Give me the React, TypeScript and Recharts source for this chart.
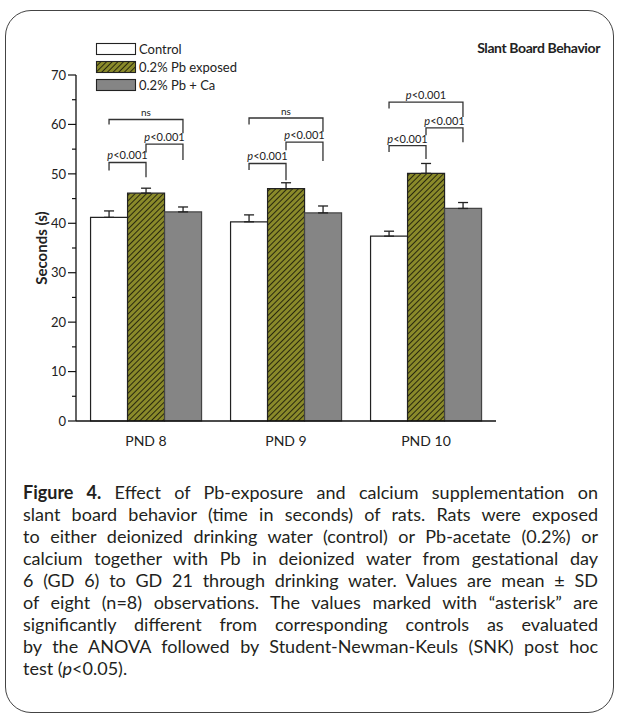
import React from "react";
import { BarChart, Bar, XAxis, YAxis, ErrorBar, ScatterChart, Scatter, ReferenceDot } from "recharts";

const days = ["PND 8", "PND 9", "PND 10"];
const control = [41.2, 40.3, 37.4];
const controlSd = [1.3, 1.4, 1.0];
const pbExposed = [46.1, 47.0, 50.1];
const pbExposedSd = [1.0, 1.2, 2.0];
const pbCa = [42.3, 42.1, 43.0];
const pbCaSd = [1.0, 1.4, 1.2];
const yTicks = [0, 5, 10, 15, 20, 25, 30, 35, 40, 45, 50, 55, 60, 65, 70];

// significance brackets: day index, bar from/to (0 control, 1 Pb, 2 Pb+Ca), bracket level and leg ends
const bracketDay = [0, 0, 0, 1, 1, 1, 2, 2, 2];
const bracketFrom = [0, 1, 0, 0, 1, 0, 0, 1, 0];
const bracketTo = [2, 2, 1, 2, 2, 1, 2, 2, 1];
const bracketTop = [61.0, 56.0, 52.3, 61.3, 56.4, 52.1, 64.5, 59.3, 55.7];
const bracketLeftEnd = [60.0, 54.3, 50.7, 60.0, 54.8, 50.8, 63.2, 57.8, 54.4];
const bracketRightEnd = [58.2, 52.8, 49.3, 58.5, 52.6, 48.7, 61.5, 56.4, 53.0];
const bracketLabel = ["ns", "p<0.001", "p<0.001", "ns", "p<0.001", "p<0.001", "p<0.001", "p<0.001", "p<0.001"];

const data = days.map((day, i) => ({
  day,
  control: control[i],
  controlErr: [0, controlSd[i]],
  pb: pbExposed[i],
  pbErr: [0, pbExposedSd[i]],
  ca: pbCa[i],
  caErr: [0, pbCaSd[i]],
}));

const FONT = "Lato, 'Open Sans', sans-serif";
const GAP = 0.104;
const BAR_W = (1 - 2 * GAP) / 3;
const slot = (k: number) => GAP + BAR_W * (k + 0.5);

const brackets = bracketTop.map((top, i) => {
  const x1 = bracketDay[i] + slot(bracketFrom[i]);
  const x2 = bracketDay[i] + slot(bracketTo[i]);
  return {
    mid: (x1 + x2) / 2,
    top,
    label: bracketLabel[i],
    points: [
      { x: x1, y: bracketLeftEnd[i] },
      { x: x1, y: top },
      { x: x2, y: top },
      { x: x2, y: bracketRightEnd[i] },
    ],
  };
});

const CHART_W = 619;
const CHART_H = 460;
const MARGIN = { top: 75, right: 123, bottom: 9, left: 26 };
const Y_AXIS_W = 50;
const X_AXIS_H = 30;

const YTick = (props: any) => {
  const { x, y, payload } = props;
  const major = payload.value % 10 === 0;
  return (
    <g>
      <line x1={x - (major ? 8 : 4)} x2={x} y1={y} y2={y} stroke="#111" strokeWidth={1.2} />
      {major && (
        <text x={x - 10} y={y} dy={4.7} textAnchor="end" fontSize={13} fill="#222" fontFamily={FONT}>
          {payload.value}
        </text>
      )}
    </g>
  );
};

const YLabel = (props: any) => {
  const vb = props.viewBox;
  const cx = vb.x + 15;
  const cy = vb.y + vb.height / 2;
  return (
    <text x={cx} y={cy} transform={`rotate(-90 ${cx} ${cy})`} textAnchor="middle" dominantBaseline="central"
      fontSize={15} fontWeight={700} fill="#222" fontFamily={FONT}>
      Seconds (s)
    </text>
  );
};

const pLabel = (label: string) => (p: any) => (
  <text x={p.cx} y={p.cy - 3} textAnchor="middle" fontSize={label === "ns" ? 10 : 11} fill="#222" fontFamily={FONT}>
    {label.startsWith("p") ? (
      <>
        <tspan fontStyle="italic">p</tspan>
        {label.slice(1)}
      </>
    ) : label}
  </text>
);

const legendItems = [
  { name: "Control", fill: "#ffffff" },
  { name: "0.2% Pb exposed", fill: "url(#hatchLegend)" },
  { name: "0.2% Pb + Ca", fill: "#858585" },
];

const HatchDef = ({ id }: { id: string }) => (
  <pattern id={id} patternUnits="userSpaceOnUse" width={4} height={4} patternTransform="rotate(45)">
    <rect width={4} height={4} fill="#8a8a2a" />
    <line x1={0} y1={0} x2={0} y2={4} stroke="#1c1c0a" strokeWidth={1.8} />
  </pattern>
);

export default function App() {
  return (
    <div style={{ position: "absolute", left: 0, top: 0, width: 619, height: 720, background: "#fff", fontFamily: FONT }}>
      <div style={{ position: "absolute", left: 5, top: 10, width: 609, height: 703, border: "1.3px solid #444", borderRadius: 26, boxSizing: "border-box" }} />

      <div style={{ position: "absolute", left: 0, top: 0 }}>
        <BarChart width={CHART_W} height={CHART_H} data={data} margin={MARGIN}
          barCategoryGap={`${GAP * 100}%`} barGap={0}>
          <defs>
            <HatchDef id="hatchBar" />
          </defs>
          <XAxis dataKey="day" tickLine={false} axisLine={{ stroke: "#111", strokeWidth: 1.3 }} tickMargin={9}
            tick={{ fontSize: 14, fill: "#222", fontFamily: FONT }} height={X_AXIS_H} />
          <YAxis domain={[0, 70]} ticks={yTicks} interval={0} width={Y_AXIS_W} tickSize={0} tickMargin={0} tickLine={false}
            axisLine={{ stroke: "#111", strokeWidth: 1.3 }} tick={<YTick />} label={<YLabel />} />
          <Bar dataKey="control" fill="#ffffff" stroke="#222" strokeWidth={1.2} isAnimationActive={false}>
            <ErrorBar dataKey="controlErr" width={5} stroke="#222" strokeWidth={1.3} />
          </Bar>
          <Bar dataKey="pb" fill="url(#hatchBar)" stroke="#222" strokeWidth={1.2} isAnimationActive={false}>
            <ErrorBar dataKey="pbErr" width={5} stroke="#222" strokeWidth={1.3} />
          </Bar>
          <Bar dataKey="ca" fill="#858585" stroke="#444" strokeWidth={1.2} isAnimationActive={false}>
            <ErrorBar dataKey="caErr" width={5} stroke="#222" strokeWidth={1.3} />
          </Bar>
        </BarChart>
      </div>

      {/* significance brackets on a numeric overlay sharing the same plot area */}
      <div style={{ position: "absolute", left: 0, top: 0, pointerEvents: "none" }}>
        <ScatterChart width={CHART_W} height={CHART_H}
          margin={{ top: MARGIN.top, right: MARGIN.right, bottom: MARGIN.bottom + X_AXIS_H, left: MARGIN.left + Y_AXIS_W }}>
          <XAxis type="number" dataKey="x" domain={[0, 3]} allowDataOverflow hide />
          <YAxis type="number" dataKey="y" domain={[0, 70]} allowDataOverflow hide />
          {brackets.map((b, i) => (
            <Scatter key={`b${i}`} data={b.points} line={{ stroke: "#333", strokeWidth: 1.3 }} lineType="joint"
              shape={() => <g />} isAnimationActive={false} />
          ))}
          {brackets.map((b, i) => (
            <ReferenceDot key={`t${i}`} x={b.mid} y={b.top} r={0} shape={pLabel(b.label)} />
          ))}
        </ScatterChart>
      </div>

      <svg style={{ position: "absolute", left: 90, top: 38 }} width={200} height={60}>
        <defs>
          <HatchDef id="hatchLegend" />
        </defs>
        {legendItems.map((it, i) => (
          <g key={it.name}>
            <rect x={6.5} y={5.5 + i * 18} width={39} height={11} fill={it.fill} stroke="#222" strokeWidth={1.1} />
            <text x={49} y={11 + i * 18} dy={4.6} fontSize={13} fill="#222" fontFamily={FONT}>{it.name}</text>
          </g>
        ))}
      </svg>

      <div style={{ position: "absolute", right: 19, top: 39, fontSize: 14, fontWeight: 700, color: "#222", letterSpacing: -0.4 }}>
        Slant Board Behavior
      </div>

      <div style={{ position: "absolute", left: 23, top: 481, width: 575, fontSize: 18, lineHeight: "22px", color: "#231f20" }}>
        {[
          <><b>Figure 4.</b> Effect of Pb-exposure and calcium supplementation on</>,
          <>slant board behavior (time in seconds) of rats. Rats were exposed</>,
          <>to either deionized drinking water (control) or Pb-acetate (0.2%) or</>,
          <>calcium together with Pb in deionized water from gestational day</>,
          <>6 (GD 6) to GD 21 through drinking water. Values are mean ± SD</>,
          <>of eight (n=8) observations. The values marked with “asterisk” are</>,
          <>significantly different from corresponding controls as evaluated</>,
          <>by the ANOVA followed by Student-Newman-Keuls (SNK) post hoc</>,
        ].map((line, i) => (
          <div key={i} style={{ textAlign: "justify", textAlignLast: "justify" }}>{line}</div>
        ))}
        <div>test (<i>p</i>&lt;0.05).</div>
      </div>
    </div>
  );
}
